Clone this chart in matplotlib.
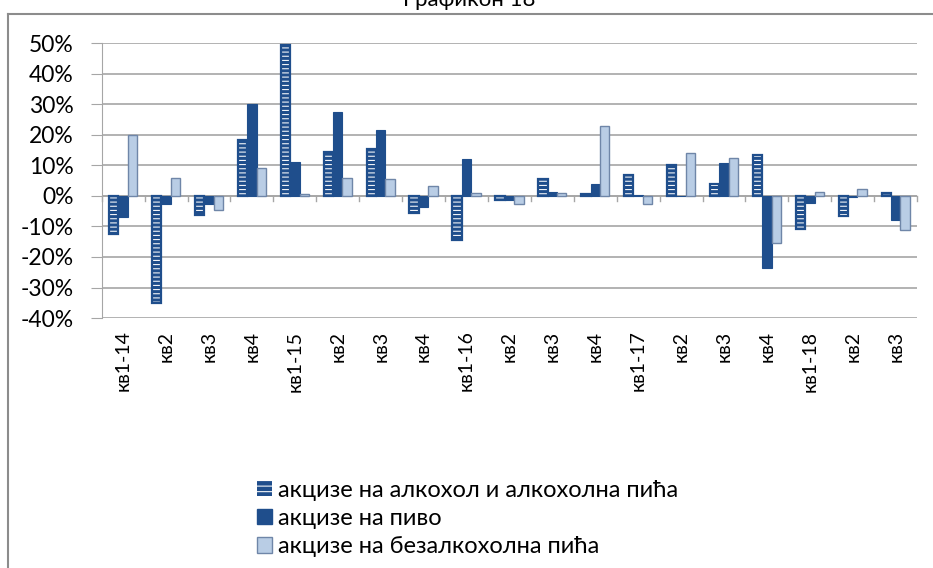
import matplotlib.pyplot as plt
import numpy as np
from matplotlib.lines import Line2D
from matplotlib.ticker import FuncFormatter

plt.rcParams['font.family'] = ['Lato', 'DejaVu Sans']
plt.rcParams['hatch.linewidth'] = 0.75

kategorije = ['кв1-14', 'кв2', 'кв3', 'кв4',
              'кв1-15', 'кв2', 'кв3', 'кв4',
              'кв1-16', 'кв2', 'кв3', 'кв4',
              'кв1-17', 'кв2', 'кв3', 'кв4',
              'кв1-18', 'кв2', 'кв3']
alkohol = [-12.5, -35, -6.3, 18.3, 49.5, 14.4, 15.3, -5.6, -14.4, -1.5,
           5.5, 0.5, 6.8, 10.2, 4.0, 13.3, -10.7, -6.5, 1.1]
pivo = [-7, -2.5, -2.5, 30, 11, 27.6, 21.6, -3.6, 12, -1.5,
        1.3, 4, 0.4, 0.1, 10.7, -23.5, -2.3, -0.5, -7.9]
bezalkoholna = [20, 6, -4.5, 9, 0.5, 6, 5.5, 3.3, 1, -2.8,
                1, 23, -2.8, 14.2, 12.4, -15.3, 1.4, 2.2, -11.2]
serije = ['акцизе на алкохол и алкохолна пића', 'акцизе на пиво',
          'акцизе на безалкохолна пића']

tamna = '#1F4E8C'
svijetla = '#B9CDE5'

fig = plt.figure(figsize=(9.33, 5.68), dpi=100)
ax = fig.add_axes([0.109, 0.44, 0.874, 0.484])

x = np.arange(len(kategorije))
w = 0.22
ax.bar(x - w, alkohol, w, color=tamna, edgecolor='white', hatch='----', lw=0, zorder=3)
ax.bar(x - w, alkohol, w, fill=False, edgecolor=tamna, lw=1.6, zorder=4)
ax.bar(x, pivo, w, color=tamna, edgecolor=tamna, lw=0.8, zorder=3)
ax.bar(x + w, bezalkoholna, w, color=svijetla, edgecolor='#6F86A8', lw=1.0, zorder=3)

ax.set_xlim(-0.5, len(kategorije) - 0.5)
ax.set_ylim(-40, 50)
ax.set_yticks(range(-40, 51, 10))
ax.yaxis.set_major_formatter(FuncFormatter(lambda v, p: f'{v:.0f}%'))
ax.yaxis.grid(True, color='#A6A6A6', lw=1.2, zorder=0)
ax.tick_params(axis='y', length=8, color='#A6A6A6', labelsize=16.5, pad=12)

ax.set_xticks(x)
ax.set_xticklabels(kategorije, rotation=90, fontsize=14)
ax.tick_params(axis='x', length=0, pad=9)
for g in np.arange(-0.5, len(kategorije), 1.0):
    ax.plot([g, g], [0, -1.6], color='#A6A6A6', lw=1, zorder=2, clip_on=False)
ax.axhline(0, color='#A6A6A6', lw=1.2, zorder=2)

for s in ['top', 'right', 'bottom']:
    ax.spines[s].set_visible(False)
ax.spines['left'].set_color('#A6A6A6')

# legenda
h1 = plt.Rectangle((0, 0), 1, 1, facecolor=tamna, edgecolor='white', hatch='---', lw=0)
h2 = plt.Rectangle((0, 0), 1, 1, facecolor=tamna, edgecolor=tamna)
h3 = plt.Rectangle((0, 0), 1, 1, facecolor=svijetla, edgecolor='#6F86A8')
fig.legend([h1, h2, h3], serije, loc='upper left', bbox_to_anchor=(0.265, 0.172),
           frameon=False, fontsize=17, handlelength=0.65, handleheight=0.65,
           handletextpad=0.25, labelspacing=0.3, borderaxespad=0)

# okvir i naslov
fig.add_artist(Line2D([8/933, 1], [1 - 14/568] * 2, color='#8C8C8C', lw=1.5))
fig.add_artist(Line2D([8/933] * 2, [0, 1 - 14/568], color='#8C8C8C', lw=1.5))
fig.text(0.503, 1.0, 'Графикон 18', ha='center', va='center', fontsize=16)

fig.savefig('out.png', dpi=100)
